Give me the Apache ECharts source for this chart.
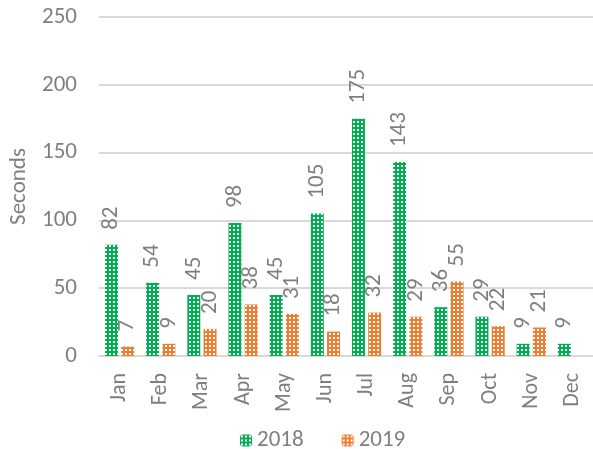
<!DOCTYPE html>
<html>
<head>
    <meta charset="utf-8">
    <title>Seconds by month</title>
    <script src="https://cdn.jsdelivr.net/npm/echarts@6/dist/echarts.min.js"></script>
</head>
<body style="margin:0">
    <div id="main" style="width:593px;height:449px;"></div>
    <script type="text/javascript">
        var months = ['Jan', 'Feb', 'Mar', 'Apr', 'May', 'Jun', 'Jul', 'Aug', 'Sep', 'Oct', 'Nov', 'Dec'];
        var data2018 = [82, 54, 45, 98, 45, 105, 175, 143, 36, 29, 9, 9];
        var data2019 = [7, 9, 20, 38, 31, 18, 32, 29, 55, 22, 21, null];
        var yTicks = [0, 50, 100, 150, 200, 250];

        // small grid pattern like the excel fill
        function makePattern(color) {
            var c = document.createElement('canvas');
            c.width = 4;
            c.height = 4;
            var ctx = c.getContext('2d');
            ctx.fillStyle = color;
            ctx.fillRect(0, 0, 4, 4);
            ctx.fillStyle = '#ffffff';
            ctx.fillRect(1, 1, 2, 2);
            return { image: c, repeat: 'repeat' };
        }

        var font = 'Calibri, Carlito, "Liberation Sans", sans-serif';
        var grey = '#7f7f7f';

        var myChart = echarts.init(document.getElementById('main'));
        var labelOpt = {
            show: true,
            position: 'top',
            rotate: 90,
            align: 'left',
            verticalAlign: 'middle',
            distance: 15,
            color: grey,
            fontSize: 23,
            fontFamily: font
        };
        myChart.setOption({
            animation: false,
            grid: { left: 94, width: 502, top: 17, bottom: 93 },
            legend: {
                top: 424,
                left: 235,
                itemWidth: 12,
                itemHeight: 12,
                itemGap: 38,
                textStyle: { color: grey, fontSize: 23, fontFamily: font },
                data: ['2018', '2019']
            },
            xAxis: {
                type: 'category',
                data: months,
                axisTick: { show: false },
                axisLine: { lineStyle: { color: '#d9d9d9', width: 2 } },
                axisLabel: { rotate: 90, color: grey, fontSize: 22, fontFamily: font, margin: 17 }
            },
            yAxis: {
                type: 'value',
                min: yTicks[0],
                max: yTicks[yTicks.length - 1],
                interval: 50,
                name: 'Seconds',
                nameLocation: 'middle',
                nameGap: 68,
                nameTextStyle: { color: grey, fontSize: 23, fontFamily: font },
                axisLine: { show: false },
                axisTick: { show: false },
                splitLine: { lineStyle: { color: '#d9d9d9', width: 2 } },
                axisLabel: { color: grey, fontSize: 23, fontFamily: font, margin: 22 }
            },
            series: [
                {
                    name: '2018',
                    type: 'bar',
                    data: data2018,
                    barWidth: 13,
                    barGap: '25%',
                    itemStyle: { color: makePattern('#00b050') },
                    label: labelOpt
                },
                {
                    name: '2019',
                    type: 'bar',
                    data: data2019,
                    barWidth: 13,
                    itemStyle: { color: makePattern('#ed7d31') },
                    label: labelOpt
                }
            ]
        });
    </script>
</body>
</html>
